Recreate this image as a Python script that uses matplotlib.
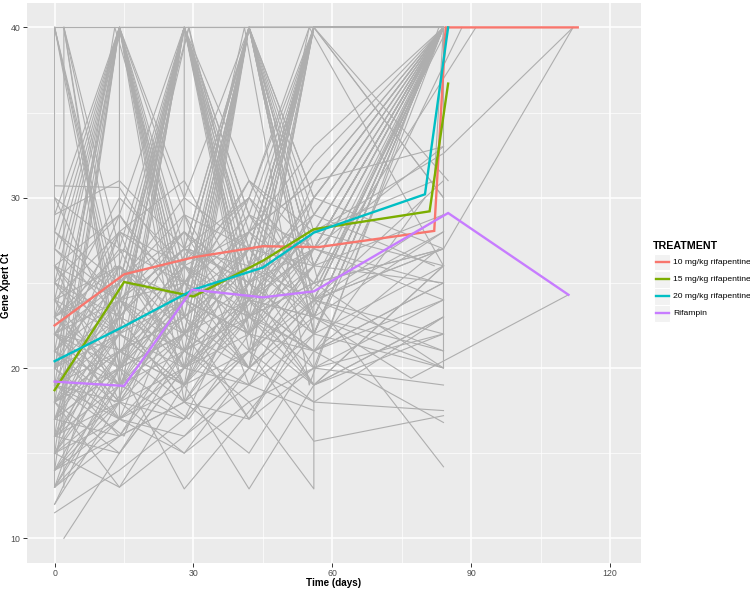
import matplotlib
matplotlib.use("Agg")
from matplotlib import pyplot as plt
from matplotlib.lines import Line2D
from matplotlib.patches import Rectangle

plt.rcParams['font.family'] = ['Liberation Sans', 'DejaVu Sans']

# per-patient trajectories (grey lines): visit day and Gene Xpert Ct
grey_days = [
    [0, 14, 28, 42, 56, 84],
    [0, 14, 28, 42, 56, 84],
    [0, 14, 28, 42, 56, 84],
    [0, 14, 28, 42, 56, 84],
    [2, 14, 28, 42, 56, 84],
    [0, 14, 28, 42, 56, 84],
    [0, 14, 28, 42, 56, 84],
    [0, 14, 28, 42, 56, 84],
    [0, 14, 28, 42, 56, 84],
    [0, 14, 28, 42, 56, 84],
    [0, 14, 28, 42, 56, 84],
    [0, 14, 28, 42, 56, 84],
    [0, 14, 28, 42, 56, 84],
    [0, 14, 28, 42, 56, 84],
    [0, 14, 28, 42, 56, 84],
    [0, 14, 28, 42, 56, 84],
    [0, 14, 28, 42, 56, 84],
    [0, 14, 28, 42, 56, 84],
    [0, 14, 28, 42, 56, 84],
    [2, 14, 28, 42, 56, 84],
    [0, 14, 28, 42, 56, 84],
    [0, 14, 28, 42, 56, 84],
    [0, 14, 28, 56, 84],
    [0, 14, 28, 42, 56, 84],
    [0, 14, 28, 42, 56, 56, 84],
    [0, 0, 14, 28, 42, 56, 84],
    [2, 2, 14, 28, 42, 56, 84],
    [0, 14, 14, 28, 42, 56, 84],
    [0, 14, 28, 28, 42, 56, 84],
    [0, 14, 28, 42, 56, 84, 84],
    [0, 14, 28, 42, 56, 84],
    [0, 14, 28, 42, 56, 84],
    [0, 14, 28, 42, 56, 84],
    [0, 14, 28, 42, 56, 84],
    [0, 14, 28, 42, 56, 84],
    [0, 14, 28, 42, 56],
    [0, 14, 28, 42, 56],
    [0, 14, 28, 42, 56, 84],
    [0, 14, 28, 42, 56, 84],
    [0, 14, 28, 42, 56, 84],
    [0, 14, 28, 42, 56, 84],
    [0, 14, 28, 42, 56, 84],
    [0, 14, 28, 42, 56, 84],
    [0, 14, 28, 42, 56, 84],
    [0, 14, 28, 42, 56, 84],
    [0, 14, 28, 42, 56, 84],
    [0, 14, 28, 42, 56, 84],
    [0, 14, 28, 42, 56, 84],
    [0, 14, 28, 42, 56, 84],
    [0, 14, 28, 42, 56, 84],
    [0, 14, 28, 42, 56, 84],
    [0, 14, 28, 42, 56, 84],
    [0, 14, 28, 42, 56, 84],
    [0, 14, 28, 42, 56, 84],
    [0, 14, 28, 42, 56, 84],
    [2, 14, 28, 42, 56, 84],
    [0, 14, 28, 42, 56, 84],
    [0, 14, 28, 42, 56, 77, 111],
    [0, 14, 28, 42, 56, 84, 112],
    [0, 14, 28, 42, 56, 84, 112],
    [0, 14, 28, 42, 56, 84],
    [0, 14, 28, 42, 56, 84],
    [0, 14, 28, 42, 56, 84],
    [0, 14, 28, 42, 56, 84],
    [0, 14, 28, 42, 56, 84],
    [0, 14, 28, 42, 56, 84],
    [0, 14, 28, 42, 56, 84],
    [0, 14, 28, 42, 56, 84],
    [0, 14, 28, 42, 56, 84],
    [0, 14, 28, 42, 56, 84],
    [0, 14, 28, 42, 56, 84],
    [0, 14, 28, 42, 56, 84],
    [0, 14, 28, 42, 56, 84],
    [0, 14, 28, 42, 56, 84],
    [0, 14, 28, 42, 56, 84],
    [0, 14, 28, 42, 56, 84],
    [0, 14, 28, 42, 56, 84],
    [0, 14, 28, 42, 56, 84],
    [0, 14, 28, 42, 56, 84],
    [0, 14, 28, 42, 56, 84],
    [0, 14, 28, 42, 56, 82, 84],
    [0, 14, 28, 42, 56, 88],
    [0, 14, 28, 42, 56, 91],
    [0, 14, 28, 42, 56, 80],
    [0, 14, 28, 42, 56, 82],
    [0, 13, 27, 41, 55, 83],
    [1, 15, 29, 43, 57, 85],
    [0, 14, 29, 42, 56, 84],
    [0, 13, 28, 43, 56, 83],
    [0, 15, 28, 42, 57, 84],
    [0, 14, 27, 42, 55, 84],
    [1, 14, 28, 41, 56, 84],
    [0, 14, 28, 42, 56, 84],
    [0, 15, 29, 42, 56, 85],
    [0, 14, 28, 43, 56, 83],
    [0, 14, 28, 42, 56, 84],
    [0, 13, 28, 42, 56, 84],
    [0, 14, 28, 42, 57, 84],
    [0, 14, 28, 42, 56, 84],
    [0, 14, 28, 42, 56, 84],
    [0, 14, 29, 42, 56, 84],
    [0, 15, 28, 42, 56],
    [0, 14, 28, 42, 56, 84],
    [0, 14, 28, 42, 55, 84],
    [0, 14, 28, 42, 56, 84],
    [0, 14, 28, 42, 56, 84],
    [0, 14, 28, 42, 56, 84],
    [0, 14, 28, 42, 56, 84],
    [0, 14, 28, 42, 56, 84],
    [0, 14, 28, 42, 56, 84],
    [0, 14, 28, 42, 56, 84],
    [0, 14, 28, 42, 56, 84],
    [0, 14, 28, 42, 56, 84],
    [0, 14, 28, 42, 56, 84],
    [0, 14, 28, 42, 56, 84],
    [0, 14, 28, 42, 56, 84],
    [0, 14, 28, 42, 56, 84],
    [0, 14, 28, 42, 56, 84],
    [0, 14, 28, 42, 56, 84],
    [0, 14, 28, 42, 56, 84],
    [0, 14, 28, 42, 56, 84],
    [2, 14, 28, 42, 56, 84],
    [0, 14, 28, 42, 56, 84],
    [0, 14, 28, 42, 56, 84],
    [0, 14, 28, 42, 56, 84],
]
grey_ct = [
    [40, 40, 40, 40, 40, 40],
    [40, 22, 40, 24, 40, 40],
    [27, 40, 21, 40, 26, 40],
    [22, 18, 40, 27, 40, 40],
    [40, 19, 24, 40, 22, 40],
    [18, 40, 25, 20, 40, 40],
    [24, 26, 40, 23, 29, 40],
    [15, 21, 19, 40, 24, 40],
    [20, 24, 27, 26, 40, 40],
    [13, 17, 16, 19, 22, 40],
    [30.7, 30.6, 25, 28, 31, 40],
    [16, 19, 22, 25, 27, 33],
    [19, 23, 21, 24, 23, 28],
    [21, 25, 28, 24, 30, 40],
    [14, 16, 18, 17, 20, 22],
    [25, 29, 40, 31, 27, 40],
    [23, 40, 30, 40, 40, 40],
    [17, 20, 24, 22, 26, 25],
    [12, 18, 20, 23, 19, 26],
    [10, 15, 20, 22, 21, 24],
    [11.5, 14, 17, 21, 24, 27],
    [26, 22, 40, 26, 24, 40],
    [15, 20, 12.9, 22, 20],
    [18, 21, 19, 12.9, 19, 22],
    [20, 17, 21, 18, 12.9, 24, 14.2],
    [13, 40, 24, 40, 29, 40, 40],
    [13, 40, 20, 26, 40, 30, 40],
    [19, 17, 40, 23, 26, 40, 40],
    [22, 24, 25, 40, 24, 27, 40],
    [16, 22, 26, 28, 25, 20, 40],
    [28, 40, 24, 20, 40, 40],
    [24, 19, 40, 40, 28, 40],
    [15, 40, 18, 40, 22, 40],
    [21, 26, 23, 40, 40, 40],
    [17, 23, 40, 25, 40, 30],
    [40, 20, 22, 40, 40],
    [18, 22, 20, 19, 17.5],
    [14, 17, 19, 21, 18, 17.5],
    [16, 18, 17, 21, 15.7, 17.2],
    [20, 16, 18, 15, 21, 16.8],
    [22, 27, 25, 23, 26, 29],
    [25, 23, 27, 30, 24, 31],
    [19, 21, 24, 22, 28, 26],
    [23, 20, 22, 27, 23, 40],
    [27, 24, 21, 29, 25, 27],
    [29, 40, 26, 22, 31, 40],
    [13, 19, 23, 26, 40, 40],
    [21, 17, 15, 18, 20, 19],
    [18, 20, 22, 17, 23, 21],
    [24, 28, 19, 24, 21, 25],
    [15, 13, 16, 20, 18, 23],
    [26, 21, 23, 40, 23, 40],
    [20, 40, 40, 23, 25, 40],
    [17, 25, 40, 21, 40, 40],
    [22, 19, 25, 30, 40, 40],
    [40, 27, 20, 25, 22, 26],
    [14, 40, 20, 24, 27, 40],
    [19, 22, 24, 26, 23, 19.4, 24.3],
    [21, 24, 27, 25, 28, 32.6, 40],
    [18, 21, 23, 20, 24, 27, 40],
    [30, 27, 40, 28, 33, 40],
    [16, 15, 20, 40, 24, 22],
    [23, 30, 26, 40, 22, 40],
    [12, 20, 40, 26, 20, 40],
    [25, 40, 29, 27, 40, 40],
    [20, 23, 18, 21, 25, 27],
    [18, 26, 22, 24, 40, 30],
    [22, 18, 40, 22, 26, 40],
    [14, 21, 25, 29, 27, 40],
    [28, 24, 22, 26, 40, 40],
    [17, 16, 21, 23, 20, 24],
    [40, 40, 23, 27, 40, 40],
    [15, 18, 24, 28, 31, 33],
    [24, 22, 40, 40, 40, 40],
    [19, 24, 20, 40, 26, 40],
    [13, 16, 22, 20, 24, 21],
    [26, 29, 24, 22, 27, 40],
    [21, 19, 17, 25, 19, 23],
    [40, 23, 27, 40, 29, 40],
    [16, 40, 22, 28, 40, 40],
    [20, 22, 26, 24, 28, 31, 40],
    [23, 26, 21, 27, 22, 40],
    [17, 20, 25, 23, 25, 40],
    [22, 25, 40, 24, 21, 30],
    [19, 18, 22, 26, 29, 26],
    [21, 18, 23, 40, 19, 40],
    [16, 24, 40, 21, 25, 40],
    [25, 20, 17, 22, 40, 40],
    [19, 40, 26, 23, 21, 27],
    [23, 27, 22, 40, 25, 40],
    [14, 19, 26, 30, 40, 40],
    [27, 40, 40, 24, 28, 40],
    [17, 22, 19, 26, 32, 40],
    [22, 21, 27, 25, 40, 31],
    [15, 17, 20, 24, 27, 25],
    [26, 24, 40, 29, 23, 40],
    [20, 26, 24, 40, 27, 40],
    [18, 15, 21, 19, 24, 28],
    [24, 40, 22, 40, 30, 40],
    [13, 20, 24, 27, 40, 40],
    [28, 25, 40, 26, 40, 40],
    [19, 16, 25, 21, 26],
    [22, 28, 26, 40, 24, 40],
    [16, 21, 18, 23, 40, 26],
    [25, 22, 40, 27, 26, 40],
    [21, 40, 24, 40, 40, 40],
    [18, 24, 28, 25, 22, 40],
    [14, 18, 15, 20, 23, 20],
    [23, 19, 21, 24, 40, 40],
    [29, 31, 27, 40, 40, 40],
    [20, 40, 27, 24, 23, 40],
    [27, 23, 18, 24, 19, 23],
    [19, 28, 31, 24, 29, 40],
    [24, 17, 26, 20, 30, 27],
    [16, 26, 20, 30, 26, 40],
    [22, 20, 29, 19, 27, 24],
    [30, 22, 19, 28, 23, 40],
    [15, 23, 28, 22, 19, 26],
    [26, 18, 24, 31, 28, 40],
    [13, 24, 19, 25, 30, 40],
    [20, 29, 23, 17, 24, 29],
    [40, 25, 29, 23, 27, 40],
    [18, 13, 19, 23, 21, 25],
    [23, 25, 30, 27, 40, 40],
    [17, 28, 25, 31, 24, 40],
]

# treatment group means (coloured lines)
treatments = ["10 mg/kg rifapentine", "15 mg/kg rifapentine",
              "20 mg/kg rifapentine", "Rifampin"]
colors = ["#F8766D", "#7CAE00", "#00BFC4", "#C77CFF"]
mean_days = [
    [0, 15, 30, 45, 57, 82, 84.5, 113],
    [0, 15, 30, 45, 56, 81, 85],
    [0, 15, 30, 45, 56, 80, 85],
    [0, 15, 29.7, 45, 56, 85, 111],
]
mean_ct = [
    [22.5, 25.5, 26.5, 27.15, 27.1, 28.05, 40, 40],
    [18.7, 25.05, 24.2, 26.3, 28.15, 29.2, 36.7],
    [20.4, 22.45, 24.6, 25.9, 27.95, 30.2, 40],
    [19.2, 18.95, 24.6, 24.15, 24.5, 29.1, 24.3],
]

W, H = 750, 590
fig = plt.figure(figsize=(7.5, 5.9), dpi=100)
fig.patch.set_facecolor("white")
ax = fig.add_axes([26.7 / W, 27 / H, 614 / W, 560.3 / H])
ax.set_facecolor("#EBEBEB")

for d, c in zip(grey_days, grey_ct):
    ax.plot(d, c, color="#AEAEAE", lw=0.8, zorder=2)

for d, c, col in zip(mean_days, mean_ct, colors):
    ax.plot(d, c, color=col, lw=1.7, zorder=3, solid_joinstyle="miter")

ax.set_xlim(-6.03, 126.6)
ax.set_ylim(8.55, 41.45)
ax.set_xticks([0, 30, 60, 90, 120])
ax.set_yticks([10, 20, 30, 40])
ax.set_xticks([15, 45, 75, 105], minor=True)
ax.set_yticks([15, 25, 35], minor=True)
ax.grid(which="major", color="white", lw=1.1, zorder=1)
ax.grid(which="minor", color="white", lw=0.5, zorder=1)
ax.set_axisbelow(True)
for s in ax.spines.values():
    s.set_visible(False)
ax.tick_params(which="major", length=3, width=0.7, color="#333333",
               labelsize=6.3, labelcolor="#4D4D4D", pad=1.5)
ax.tick_params(which="minor", length=0)

fig.text(333.7 / W, 1 - 583.5 / H, "Time (days)", ha="center", va="center",
         fontsize=7.1, fontweight="bold")
fig.text(6 / W, 1 - 285.8 / H, "Gene Xpert Ct", ha="center", va="center",
         rotation=90, fontsize=7, fontweight="bold")

# legend drawn in figure pixels
fig.text(653 / W, 1 - 246 / H, "TREATMENT", ha="left", va="center",
         fontsize=7.7, fontweight="bold")
for i, (lab, col) in enumerate(zip(treatments, colors)):
    yc = 262.3 + i * 17
    fig.add_artist(Rectangle((654 / W, 1 - (yc + 8.2) / H), 16 / W, 16.4 / H,
                             transform=fig.transFigure, facecolor="#F2F2F2",
                             edgecolor="white", lw=0.8))
    fig.add_artist(Line2D([655.5 / W, 668.5 / W], [1 - yc / H, 1 - yc / H],
                          transform=fig.transFigure, color=col, lw=1.7))
    fig.text(673 / W, 1 - yc / H, lab, ha="left", va="center", fontsize=6.1)

fig.savefig("out.png", dpi=100)
